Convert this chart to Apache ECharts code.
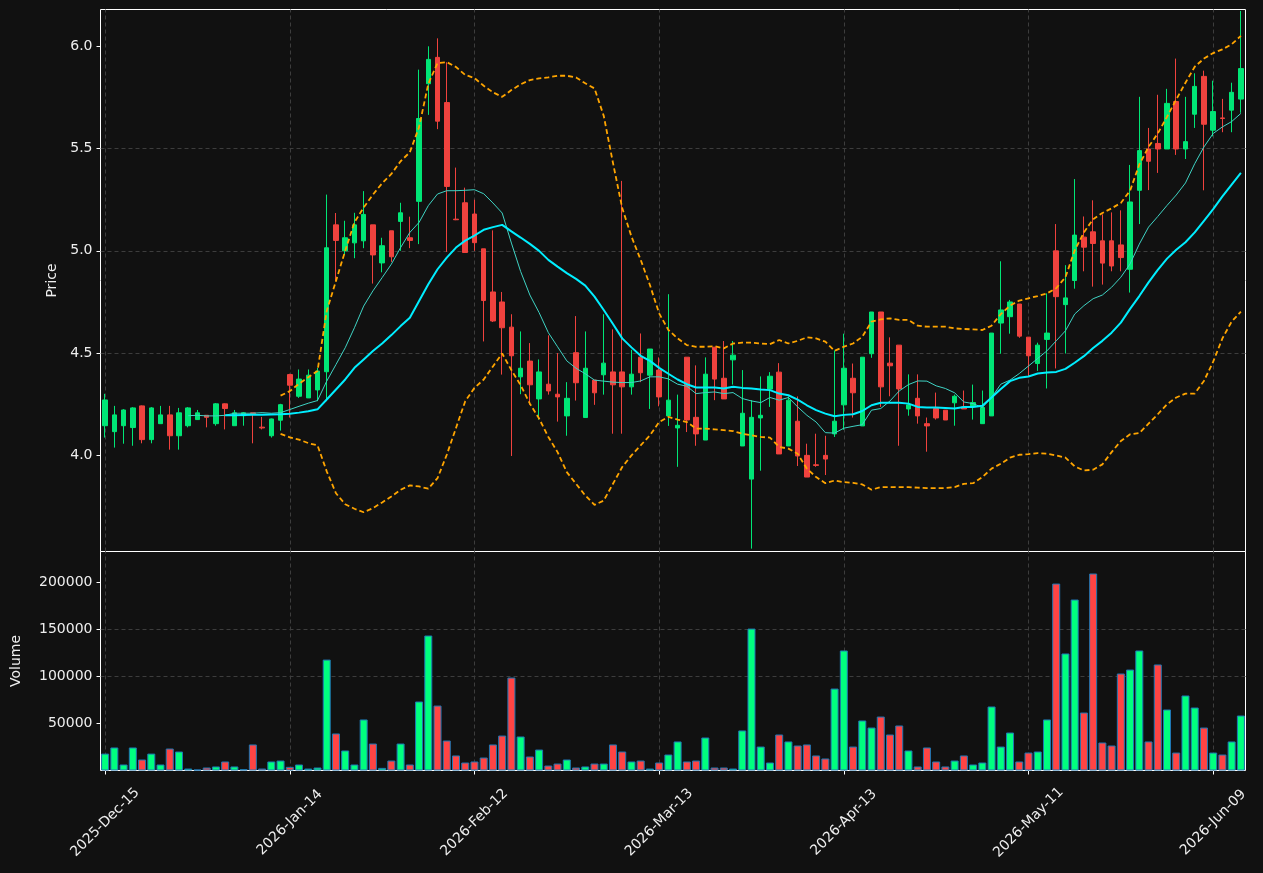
<!DOCTYPE html>
<html>
<head>
<meta charset="utf-8">
<script src="https://cdn.jsdelivr.net/npm/echarts@6/dist/echarts.min.js"></script>
<style>
  html, body { margin: 0; padding: 0; background: #111111; }
  #main { width: 1263px; height: 873px; }
</style>
</head>
<body>
<div id="main"></div>
<script>
// trading days, by month
var tradingDays = [
    ['2025', 'Dec', [15,16,17,18,19,22,23,24,26,29,30,31]],
    ['2026', 'Jan', [2,5,6,7,8,9,12,13,14,15,16,20,21,22,23,26,27,28,29,30]],
    ['2026', 'Feb', [2,3,4,5,6,9,10,11,12,13,17,18,19,20,23,24,25,26,27]],
    ['2026', 'Mar', [2,3,4,5,6,9,10,11,12,13,16,17,18,19,20,23,24,25,26,27,30,31]],
    ['2026', 'Apr', [1,2,6,7,8,9,10,13,14,15,16,17,20,21,22,23,24,27,28,29,30]],
    ['2026', 'May', [1,4,5,6,7,8,11,12,13,14,15,18,19,20,21,22,26,27,28,29]],
    ['2026', 'Jun', [1,2,3,4,5,8,9,10,11,12]]
];
var tickDates = ['2025-Dec-15', '2026-Jan-14', '2026-Feb-12', '2026-Mar-13', '2026-Apr-13', '2026-May-11', '2026-Jun-09'];
var priceTicks = [4.0, 4.5, 5.0, 5.5, 6.0];
var volumeTicks = [50000, 100000, 150000, 200000];

var opens = [4.145,4.116,4.145,4.136,4.242,4.077,4.155,4.198,4.096,4.145,
    4.175,4.196,4.155,4.252,4.145,4.194,4.208,4.138,4.096,4.172,
    4.395,4.289,4.281,4.320,4.409,5.127,5.000,5.039,5.049,5.127,
    4.941,5.098,5.144,5.064,5.242,5.817,5.946,5.725,5.155,5.235,
    5.180,5.010,4.799,4.750,4.627,4.384,4.461,4.276,4.348,4.299,
    4.193,4.502,4.185,4.368,4.394,4.408,4.408,4.335,4.480,4.392,
    4.417,4.193,4.134,4.480,4.186,4.075,4.529,4.377,4.467,4.046,
    3.884,4.183,4.324,4.407,4.046,4.167,4.000,3.954,4.000,4.105,
    4.247,4.377,4.144,4.497,4.701,4.451,4.539,4.227,4.279,4.155,
    4.229,4.221,4.257,4.237,4.242,4.155,4.193,4.647,4.678,4.740,
    4.578,4.449,4.567,5.000,4.737,4.855,5.067,5.093,5.049,5.049,
    5.029,4.910,5.296,5.498,5.525,5.498,5.730,5.498,5.668,5.853,
    5.590,5.650,5.688,5.742];
var closes = [4.271,4.198,4.222,4.232,4.077,4.232,4.198,4.096,4.208,4.232,
    4.208,4.186,4.252,4.229,4.208,4.208,4.204,4.134,4.178,4.248,
    4.343,4.373,4.392,4.412,5.015,5.051,5.064,5.127,5.178,4.980,
    5.025,4.971,5.186,5.051,5.647,5.936,5.634,5.315,5.152,4.992,
    5.040,4.757,4.657,4.624,4.487,4.426,4.345,4.408,4.315,4.286,
    4.279,4.355,4.426,4.306,4.451,4.345,4.335,4.397,4.404,4.520,
    4.286,4.270,4.147,4.173,4.105,4.397,4.373,4.276,4.490,4.206,
    4.186,4.196,4.387,4.007,4.270,3.997,3.894,3.951,3.982,4.167,
    4.426,4.306,4.480,4.701,4.335,4.438,4.325,4.247,4.193,4.144,
    4.183,4.173,4.289,4.227,4.258,4.234,4.598,4.711,4.750,4.583,
    4.487,4.539,4.598,4.776,4.770,5.077,5.018,5.036,4.940,4.926,
    4.967,5.239,5.490,5.438,5.498,5.721,5.498,5.534,5.804,5.619,
    5.681,5.647,5.775,5.891];
var lows = [4.087,4.038,4.057,4.047,4.059,4.059,4.155,4.028,4.028,4.137,
    4.175,4.137,4.145,4.127,4.145,4.145,4.059,4.127,4.087,4.121,
    4.185,4.281,4.281,4.265,4.265,4.853,4.980,4.964,5.013,4.840,
    4.895,4.946,5.000,5.013,5.033,5.665,5.595,4.995,5.150,4.992,
    5.000,4.557,4.652,4.395,3.997,4.299,4.247,4.175,4.297,4.165,
    4.096,4.268,4.185,4.247,4.297,4.106,4.106,4.297,4.358,4.227,
    4.240,4.144,3.944,4.114,4.047,4.075,4.270,4.276,4.346,4.046,
    3.544,3.925,4.237,4.007,4.046,3.948,3.894,3.944,3.904,4.090,
    4.125,4.185,4.144,4.477,4.237,4.289,4.047,4.194,4.155,4.018,
    4.175,4.173,4.145,4.227,4.175,4.155,4.193,4.497,4.595,4.575,
    4.387,4.413,4.327,4.425,4.498,4.815,4.900,4.825,4.835,4.900,
    4.900,4.796,5.131,5.297,5.381,5.498,5.469,5.449,5.601,5.296,
    5.560,5.580,5.580,5.675];
var highs = [4.301,4.242,4.226,4.236,4.244,4.236,4.242,4.242,4.232,4.236,
    4.222,4.196,4.256,4.254,4.222,4.212,4.208,4.188,4.180,4.252,
    4.399,4.420,4.420,4.428,5.275,5.185,5.147,5.186,5.292,5.127,
    5.064,5.098,5.235,5.167,5.886,6.000,6.039,5.922,5.407,5.309,
    5.250,5.010,5.100,4.799,4.690,4.606,4.549,4.469,4.587,4.500,
    4.358,4.681,4.606,4.368,4.690,4.616,5.342,4.516,4.596,4.520,
    4.479,4.788,4.297,4.480,4.440,4.479,4.529,4.559,4.559,4.417,
    4.270,4.386,4.407,4.451,4.288,4.288,4.057,4.106,4.096,4.513,
    4.595,4.449,4.480,4.701,4.701,4.577,4.539,4.396,4.396,4.185,
    4.307,4.221,4.297,4.317,4.346,4.317,4.598,4.949,4.760,4.740,
    4.578,4.551,4.792,5.131,4.930,5.351,5.168,5.247,5.178,5.188,
    5.198,5.420,5.753,5.601,5.763,5.792,5.940,5.753,5.868,5.881,
    5.832,5.743,5.822,6.173];
var volumes = [18000,24500,6400,24500,11700,18000,6400,23400,20200,2100,
    1000,3200,4300,9600,4300,1400,27700,2100,9600,10600,
    3900,6400,2100,3200,118000,39400,21300,6400,54300,28700,
    2800,10600,28700,6400,73400,143600,69100,31900,16000,8500,
    9600,13800,27700,37200,98900,36200,14900,22300,5300,7400,
    11700,3200,4300,7400,7400,27700,20200,9600,10600,2100,
    8500,17000,30900,9600,10600,35100,3200,3200,2100,42600,
    151000,25500,8500,38300,30900,26600,27700,16000,12800,87200,
    127700,25500,53200,45700,57400,38300,47900,21300,4300,24500,
    9600,4300,10600,16000,6400,8500,68100,25500,40400,9600,
    19100,20200,54300,198900,124500,181900,61700,209600,29800,26600,
    103200,107400,127700,30900,112800,64900,19100,79800,67000,45700,
    19100,17000,30900,58500];

// short moving average (thin), from bar 9
var maShort = [null,null,null,null,null,null,null,null,null,
    4.194,4.196,4.193,4.193,4.196,4.206,4.206,4.206,4.209,4.206,4.209,
    4.224,4.240,4.255,4.268,4.363,4.444,4.526,4.624,4.730,4.804,
    4.869,4.935,5.016,5.090,5.139,5.221,5.278,5.294,5.294,5.296,
    5.299,5.279,5.234,5.185,5.038,4.899,4.784,4.698,4.600,4.531,
    4.462,4.426,4.399,4.368,4.363,4.358,4.356,4.356,4.364,4.384,
    4.384,4.374,4.348,4.338,4.302,4.307,4.310,4.302,4.307,4.278,
    4.266,4.258,4.283,4.270,4.283,4.237,4.196,4.163,4.111,4.109,
    4.133,4.142,4.150,4.221,4.229,4.266,4.315,4.346,4.364,4.363,
    4.340,4.327,4.306,4.261,4.253,4.234,4.283,4.348,4.368,4.400,
    4.437,4.474,4.511,4.560,4.609,4.691,4.732,4.766,4.784,4.822,
    4.871,4.936,5.033,5.116,5.168,5.222,5.273,5.332,5.426,5.508,
    5.574,5.606,5.632,5.672];
// long moving average (thick), from bar 13
var maLong = [null,null,null,null,null,null,null,null,null,null,null,null,null,
    4.196,4.196,4.197,4.198,4.199,4.200,4.201,
    4.204,4.209,4.216,4.225,4.273,4.322,4.371,4.428,4.469,4.510,
    4.547,4.588,4.632,4.673,4.755,4.837,4.910,4.967,5.016,5.050,
    5.075,5.103,5.116,5.127,5.095,5.065,5.034,5.000,4.956,4.923,
    4.891,4.863,4.830,4.776,4.711,4.642,4.572,4.528,4.487,4.462,
    4.428,4.399,4.371,4.348,4.332,4.332,4.332,4.327,4.335,4.330,
    4.327,4.322,4.319,4.302,4.294,4.273,4.245,4.221,4.204,4.191,
    4.198,4.201,4.217,4.245,4.257,4.257,4.257,4.253,4.237,4.234,
    4.234,4.232,4.229,4.237,4.237,4.243,4.283,4.324,4.363,4.379,
    4.386,4.400,4.405,4.408,4.423,4.453,4.485,4.525,4.560,4.600,
    4.649,4.716,4.779,4.846,4.907,4.962,5.005,5.042,5.090,5.147,
    5.204,5.266,5.324,5.381];
// bands, from bar 19
var bandUpper = [null,null,null,null,null,null,null,null,null,null,
    null,null,null,null,null,null,null,null,null,
    4.292,4.314,4.350,4.382,4.412,4.706,4.853,5.000,5.139,5.212,5.275,
    5.330,5.376,5.438,5.482,5.605,5.817,5.918,5.923,5.899,5.860,
    5.845,5.807,5.775,5.753,5.786,5.814,5.835,5.843,5.848,5.856,
    5.856,5.848,5.819,5.794,5.660,5.430,5.209,5.070,4.956,4.833,
    4.694,4.613,4.572,4.539,4.531,4.531,4.534,4.523,4.547,4.551,
    4.551,4.547,4.544,4.564,4.547,4.560,4.577,4.572,4.556,4.511,
    4.531,4.547,4.580,4.654,4.665,4.670,4.662,4.662,4.634,4.629,
    4.629,4.629,4.621,4.618,4.616,4.613,4.634,4.691,4.732,4.757,
    4.768,4.779,4.792,4.817,4.871,5.002,5.090,5.155,5.185,5.208,
    5.234,5.294,5.422,5.508,5.574,5.655,5.740,5.822,5.900,5.940,
    5.967,5.985,6.010,6.051];
var bandLower = [null,null,null,null,null,null,null,null,null,null,
    null,null,null,null,null,null,null,null,null,
    4.105,4.088,4.077,4.060,4.049,3.922,3.815,3.761,3.739,3.722,3.742,
    3.770,3.799,3.832,3.853,3.848,3.837,3.889,4.003,4.134,4.265,
    4.330,4.371,4.435,4.498,4.417,4.343,4.253,4.180,4.090,4.016,
    3.918,3.861,3.804,3.758,3.779,3.861,3.943,4.000,4.049,4.098,
    4.163,4.188,4.175,4.163,4.131,4.131,4.127,4.123,4.119,4.106,
    4.098,4.090,4.087,4.041,4.033,4.008,3.935,3.894,3.864,3.877,
    3.869,3.866,3.858,3.832,3.845,3.845,3.845,3.845,3.842,3.840,
    3.840,3.840,3.845,3.861,3.864,3.894,3.935,3.959,3.989,4.003,
    4.006,4.011,4.008,4.000,3.989,3.946,3.926,3.930,3.956,4.016,
    4.070,4.103,4.109,4.155,4.201,4.250,4.283,4.302,4.302,4.364,
    4.458,4.572,4.654,4.703];

var UP = '#00e676', DOWN = '#f0423e';
var VOL_UP = '#00ff7f', VOL_DOWN = '#ff4444';
var TXT = '#eeeeee', GRIDC = '#3d3d3d';
var FONT = 'DejaVu Sans';
var FS = 14;

function pad(d) { return d < 10 ? '0' + d : '' + d; }
var dates = [];
tradingDays.forEach(function (m) {
    m[2].forEach(function (d) { dates.push(m[0] + '-' + m[1] + '-' + pad(d)); });
});

var ohlc = [];
var volData = [];
for (var i = 0; i < dates.length; i++) {
    ohlc.push([opens[i], closes[i], lows[i], highs[i]]);
    volData.push({
        value: volumes[i],
        itemStyle: { color: closes[i] >= opens[i] ? VOL_UP : VOL_DOWN }
    });
}

function isTick(idx, value) { return tickDates.indexOf(value) >= 0; }

// vertical grid lines at the labelled dates, kept under the marks
var vGrid = {
    silent: true,
    z: 1,
    symbol: ['none', 'none'],
    label: { show: false },
    lineStyle: { color: GRIDC, type: [4, 3], width: 1 },
    animation: false,
    data: tickDates.map(function (d) { return { xAxis: d }; })
};

var myChart = echarts.init(document.getElementById('main'));

var option = {
    backgroundColor: '#111111',
    animation: false,
    textStyle: { fontFamily: FONT },
    grid: [
        { left: 100.5, top: 9.5, width: 1145, height: 542, show: true,
          borderColor: '#ffffff', borderWidth: 1, containLabel: false, outerBoundsMode: 'none' },
        { left: 100.5, top: 551.5, width: 1145, height: 219, show: true,
          borderColor: '#ffffff', borderWidth: 1, containLabel: false, outerBoundsMode: 'none' }
    ],
    xAxis: [
        {
            type: 'category', gridIndex: 0, data: dates, boundaryGap: true,
            axisLine: { show: false }, axisTick: { show: false },
            axisLabel: { show: false }, splitLine: { show: false }
        },
        {
            type: 'category', gridIndex: 1, data: dates, boundaryGap: true,
            axisLine: { show: false },
            axisTick: { show: true, alignWithLabel: true, interval: isTick, length: 4,
                        lineStyle: { color: '#ffffff' } },
            axisLabel: { interval: isTick, rotate: 45, align: 'center', verticalAlign: 'middle',
                         margin: 52, color: TXT, fontFamily: FONT, fontSize: FS },
            splitLine: { show: false }
        }
    ],
    yAxis: [
        {
            type: 'value', gridIndex: 0, min: 3.53, max: 6.18,
            name: 'Price', nameLocation: 'middle', nameGap: 41,
            nameTextStyle: { color: TXT, fontFamily: FONT, fontSize: FS },
            axisLine: { show: false },
            axisTick: { show: true, length: 4, customValues: priceTicks, lineStyle: { color: '#ffffff' } },
            axisLabel: { customValues: priceTicks, margin: 8, color: TXT, fontFamily: FONT, fontSize: FS,
                         formatter: function (v) { return v.toFixed(1); } },
            splitLine: { show: true, showMinLine: false, showMaxLine: false,
                         lineStyle: { color: GRIDC, type: [4, 3], width: 1 } }
        },
        {
            type: 'value', gridIndex: 1, min: 0, max: 233000,
            name: 'Volume', nameLocation: 'middle', nameGap: 77,
            nameTextStyle: { color: TXT, fontFamily: FONT, fontSize: FS },
            axisLine: { show: false },
            axisTick: { show: true, length: 4, customValues: volumeTicks, lineStyle: { color: '#ffffff' } },
            axisLabel: { customValues: volumeTicks, margin: 8, color: TXT, fontFamily: FONT, fontSize: FS,
                         formatter: function (v) { return String(v); } },
            splitLine: { show: true, showMinLine: false, showMaxLine: false,
                         lineStyle: { color: GRIDC, type: [4, 3], width: 1 } }
        }
    ],
    series: [
        { type: 'line', xAxisIndex: 0, yAxisIndex: 0, data: [], z: 1, markLine: vGrid },
        { type: 'line', xAxisIndex: 1, yAxisIndex: 1, data: [], z: 1, markLine: vGrid },
        {
            name: 'OHLC', type: 'candlestick', xAxisIndex: 0, yAxisIndex: 0,
            data: ohlc, barWidth: 5, z: 3,
            itemStyle: { color: UP, color0: DOWN, borderColor: UP, borderColor0: DOWN, borderWidth: 1 }
        },
        {
            name: 'MA short', type: 'line', xAxisIndex: 0, yAxisIndex: 0, data: maShort,
            symbol: 'none', z: 4, lineStyle: { color: '#3fd3c4', width: 1 }
        },
        {
            name: 'MA long', type: 'line', xAxisIndex: 0, yAxisIndex: 0, data: maLong,
            symbol: 'none', z: 4, lineStyle: { color: '#00eeff', width: 2 }
        },
        {
            name: 'Upper', type: 'line', xAxisIndex: 0, yAxisIndex: 0, data: bandUpper,
            symbol: 'none', z: 4, lineStyle: { color: '#ffa500', width: 1.8, type: [5, 3] }
        },
        {
            name: 'Lower', type: 'line', xAxisIndex: 0, yAxisIndex: 0, data: bandLower,
            symbol: 'none', z: 4, lineStyle: { color: '#ffa500', width: 1.8, type: [5, 3] }
        },
        {
            name: 'Volume', type: 'bar', xAxisIndex: 1, yAxisIndex: 1, data: volData,
            barWidth: 8, z: 3,
            itemStyle: { borderColor: '#1f77b4', borderWidth: 1 }
        }
    ]
};

myChart.setOption(option);
</script>
</body>
</html>
